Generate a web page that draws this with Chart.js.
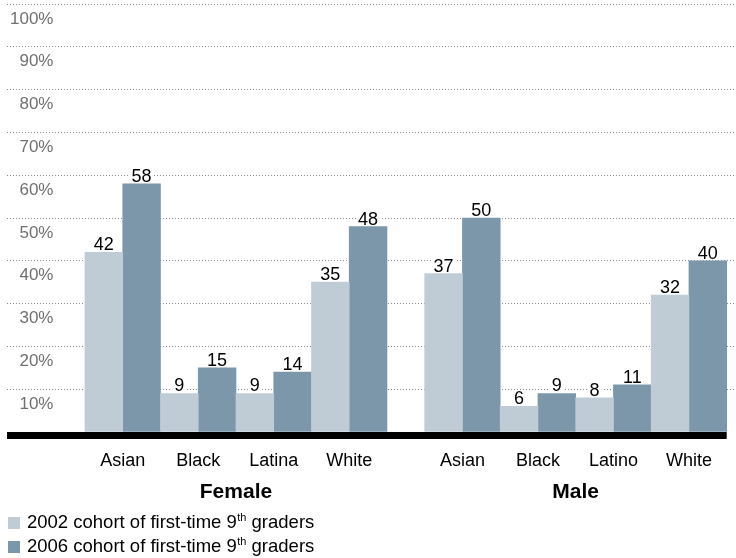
<!DOCTYPE html>
<html><head><meta charset="utf-8">
<script src="https://cdn.jsdelivr.net/npm/chart.js@4.4.0/dist/chart.umd.min.js"></script>
<style>html,body{margin:0;padding:0;background:#fff;}#wrap{position:relative;width:736px;height:558px;}</style>
</head><body><div id="wrap"><canvas id="c" width="736" height="558"></canvas></div>
<script>
// ---- data ----
const groups = ['Female', 'Male'];
const categories = ['Asian', 'Black', 'Latina', 'White', 'Asian', 'Black', 'Latino', 'White'];
const categoryGroup = [0, 0, 0, 0, 1, 1, 1, 1];
const categoryPositions = [1, 2, 3, 4, 5.5, 6.5, 7.5, 8.5];
const cohort2002 = [42, 9, 9, 35, 37, 6, 8, 32];
const cohort2006 = [58, 15, 14, 48, 50, 9, 11, 40];
const seriesLabelParts = [
  ['2002 cohort of first-time 9', 'th', ' graders'],
  ['2006 cohort of first-time 9', 'th', ' graders']
];
const yTickValues = [10, 20, 30, 40, 50, 60, 70, 80, 90, 100];

const FONT = "'Liberation Sans', Arial, Helvetica, sans-serif";
const LIGHT = '#bfccd5';
const DARK = '#7b97a9';
Chart.defaults.font.family = FONT;

const toPoints = arr => arr.map((v, i) => ({ x: categoryPositions[i], y: v }));

const decor = {
  id: 'decor',
  afterDatasetsDraw(chart) {
    const ctx = chart.ctx, xs = chart.scales.x, ys = chart.scales.y, ca = chart.chartArea;
    ctx.save();
    // value labels
    ctx.font = '18px ' + FONT;
    ctx.textAlign = 'center';
    ctx.textBaseline = 'alphabetic';
    chart.data.datasets.forEach((ds, di) => {
      chart.getDatasetMeta(di).data.forEach((bar, i) => {
        const txt = String(ds.data[i].y);
        const w = ctx.measureText(txt).width;
        const by = bar.y - 2;
        ctx.fillStyle = '#fff';
        ctx.fillRect(bar.x - w / 2 - 2, by - 14, w + 4, 15);
        ctx.fillStyle = '#000';
        ctx.fillText(txt, bar.x, by);
      });
    });
    // thick baseline
    const y0 = Math.round(ys.getPixelForValue(0));
    const endX = xs.getPixelForValue(categoryPositions[categoryPositions.length - 1] + 0.5);
    ctx.fillStyle = '#000';
    ctx.fillRect(ca.left, y0, endX - ca.left, 7);
    // group labels
    ctx.font = 'bold 21px ' + FONT;
    ctx.textBaseline = 'alphabetic';
    groups.forEach((g, gi) => {
      const pos = categoryPositions.filter((p, i) => categoryGroup[i] === gi);
      const cx = xs.getPixelForValue((pos[0] + pos[pos.length - 1]) / 2);
      ctx.fillText(g, cx, y0 + 66);
    });
    // legend
    const colors = [LIGHT, DARK];
    seriesLabelParts.forEach((parts, k) => {
      const base = y0 + 95.5 + k * 24;
      ctx.fillStyle = colors[k];
      ctx.fillRect(8, Math.round(base - 10.5), 12, 12);
      ctx.fillStyle = '#000';
      ctx.textAlign = 'left';
      let x = 27;
      ctx.font = '18.5px ' + FONT;
      ctx.fillText(parts[0], x, base);
      x += ctx.measureText(parts[0]).width + 0.5;
      ctx.font = '11px ' + FONT;
      ctx.fillText(parts[1], x, base - 7);
      x += ctx.measureText(parts[1]).width;
      ctx.font = '18.5px ' + FONT;
      ctx.fillText(parts[2], x, base);
    });
    ctx.restore();
  }
};

new Chart(document.getElementById('c'), {
  type: 'bar',
  data: {
    datasets: [
      { label: seriesLabelParts[0].join(''), data: toPoints(cohort2002), backgroundColor: LIGHT, borderWidth: 0 },
      { label: seriesLabelParts[1].join(''), data: toPoints(cohort2006), backgroundColor: DARK, borderWidth: 0 }
    ]
  },
  options: {
    responsive: false,
    animation: false,
    barPercentage: 1,
    categoryPercentage: 1,
    layout: { padding: { top: 4, left: 7, right: 1, bottom: 0 } },
    plugins: { legend: { display: false }, tooltip: { enabled: false } },
    scales: {
      x: {
        type: 'linear',
        offset: false,
        min: -0.533,
        max: 9.11,
        grid: { display: false, offset: false },
        border: { display: false },
        afterBuildTicks: s => { s.ticks = categoryPositions.map(v => ({ value: v })); },
        afterFit: s => { s.height = 126; s.paddingLeft = 0; s.paddingRight = 0; },
        ticks: {
          autoSkip: false, maxRotation: 0, padding: 10, color: '#000',
          font: { size: 18 },
          callback: (v, i) => categories[i]
        }
      },
      y: {
        min: 0, max: 100,
        afterBuildTicks: s => { s.ticks = [0].concat(yTickValues).map(v => ({ value: v })); },
        afterFit: s => { s.width = 0; s.paddingTop = 0; s.paddingBottom = 0; },
        grid: {
          color: c => (c.tick && c.tick.value === 0 ? 'rgba(0,0,0,0)' : '#8c8c8c'),
          lineWidth: 1, drawTicks: false
        },
        border: { display: false, dash: [1, 2] },
        ticks: {
          mirror: true, crossAlign: 'far', padding: 3, labelOffset: 15,
          color: '#707070', font: { size: 17 },
          callback: v => (v === 0 ? '' : v + '%')
        }
      }
    }
  },
  plugins: [decor]
});
</script></body></html>
